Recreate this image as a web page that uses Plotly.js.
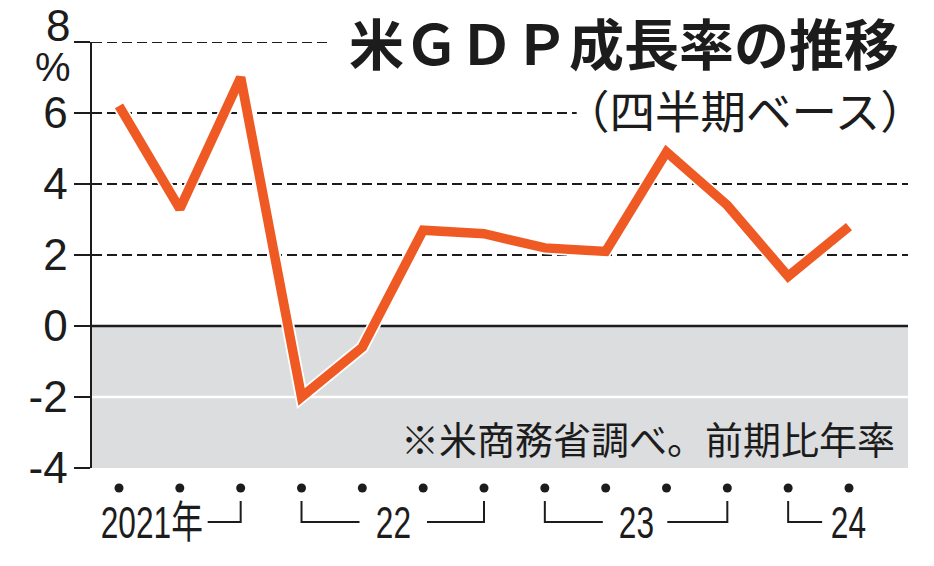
<!DOCTYPE html>
<html>
<head>
<meta charset="utf-8">
<script src="https://cdn.plot.ly/plotly-3.0.1.min.js"></script>
<style>
  html, body { margin: 0; padding: 0; background: #ffffff; }
  #chart { width: 934px; height: 566px; }
</style>
</head>
<body>
<div id="chart"></div>
<script>
// ---- data ----
const quarters = ["2021Q2","2021Q3","2021Q4","2022Q1","2022Q2","2022Q3","2022Q4",
                  "2023Q1","2023Q2","2023Q3","2023Q4","2024Q1","2024Q2"];
const growth = [6.2, 3.3, 7.0, -2.0, -0.6, 2.7, 2.6, 2.2, 2.1, 4.9, 3.4, 1.4, 2.8];
const yearLabels = ["2021年", "22", "23", "24"];
const yearFirstQ = ["2021Q2", "2022Q1", "2023Q1", "2024Q1"];
const yearLastQ  = ["2021Q4", "2022Q4", "2023Q4", "2024Q2"];
const yTickVals = [-4, -2, 0, 2, 4, 6, 8];
const yTickText = ["-4", "-2", "0", "2", "4", "6", ""];
const dashedGrid = [2, 4, 6, 8];
const titleText = "米ＧＤＰ成長率の推移";
const subtitleText = "（四半期ベース）";
const noteText = "※米商務省調べ。前期比年率";
const unitText = "%";

// ---- layout constants ----
const ORANGE = "#ef5a24";
const INK = "#1c1c1c";
const idx = q => quarters.indexOf(q);
const DOT_Y = 62, HOOK_TOP = 49, HOOK_BOT = 28, LABEL_Y = 27;
const NARROW = 0.72; // horizontal compression of year labels (condensed face)

const traces = [
  { x: quarters, y: growth, type: "scatter", mode: "lines",
    line: { color: "#ffffff", width: 13 }, hoverinfo: "skip", showlegend: false },
  { x: quarters, y: growth, type: "scatter", mode: "lines",
    line: { color: ORANGE, width: 9.5 }, showlegend: false },
  { x: quarters, y: quarters.map(() => DOT_Y), yaxis: "y2", type: "scatter", mode: "markers",
    marker: { color: INK, size: 9 }, hoverinfo: "skip", showlegend: false }
];

const shapes = [
  { type: "rect", xref: "paper", x0: 0, x1: 1, yref: "y", y0: -4, y1: 0,
    fillcolor: "#dcdddf", line: { width: 0 }, layer: "below" },
  { type: "line", xref: "paper", x0: 0, x1: 1, yref: "y", y0: -2, y1: -2,
    line: { color: "#ffffff", width: 2.5 }, layer: "below" },
  { type: "line", xref: "paper", x0: 0, x1: 1, yref: "y", y0: 0, y1: 0,
    line: { color: INK, width: 2.5 }, layer: "below" }
];
dashedGrid.forEach(v => shapes.push({
  type: "line", xref: "paper", x0: 0, x1: 1, yref: "y", y0: v, y1: v,
  line: { color: INK, width: 1.8, dash: "10px,5px" }, layer: "below"
}));
// white knock-outs behind the title and subtitle (grid lines stop before the text)
shapes.push({ type: "rect", xref: "paper", x0: 0.288, x1: 1.01, yref: "y", y0: 7.8, y1: 8.2,
  fillcolor: "#ffffff", line: { width: 0 }, layer: "below" });
shapes.push({ type: "rect", xref: "paper", x0: 0.594, x1: 1.01, yref: "y", y0: 5.8, y1: 6.2,
  fillcolor: "#ffffff", line: { width: 0 }, layer: "below" });

// year brackets
const bracketStyle = { color: INK, width: 2 };
function hookPath(anchorIdx, px) {
  return { type: "path", xref: "x", xsizemode: "pixel", xanchor: anchorIdx, yref: "y2",
           path: px, line: bracketStyle };
}
shapes.push(hookPath(idx(yearLastQ[0]), `M -33,${HOOK_BOT} L 0,${HOOK_BOT} L 0,${HOOK_TOP}`));
shapes.push(hookPath(idx(yearFirstQ[1]), `M 0,${HOOK_TOP} L 0,${HOOK_BOT} L 58,${HOOK_BOT}`));
shapes.push(hookPath(idx(yearLastQ[1]), `M -57,${HOOK_BOT} L 0,${HOOK_BOT} L 0,${HOOK_TOP}`));
shapes.push(hookPath(idx(yearFirstQ[2]), `M 0,${HOOK_TOP} L 0,${HOOK_BOT} L 58,${HOOK_BOT}`));
shapes.push(hookPath(idx(yearLastQ[2]), `M -60,${HOOK_BOT} L 0,${HOOK_BOT} L 0,${HOOK_TOP}`));
shapes.push(hookPath(idx(yearFirstQ[3]), `M 0,${HOOK_TOP} L 0,${HOOK_BOT} L 34,${HOOK_BOT}`));

const yearFont = { family: "'Liberation Sans', Arial, 'Noto Sans CJK JP', sans-serif", size: 44, color: INK };
const numFont = { family: "'Liberation Sans', Arial, sans-serif", size: 44, color: INK };
const annotations = [
  { text: yearLabels[0], xref: "x", x: idx(yearLastQ[0]), xanchor: "right", xshift: -36,
    yref: "y2", y: LABEL_Y, yanchor: "middle", showarrow: false, font: yearFont },
  { text: yearLabels[1], xref: "x", x: (idx(yearFirstQ[1]) + idx(yearLastQ[1])) / 2, xanchor: "center", xshift: 1,
    yref: "y2", y: LABEL_Y, yanchor: "middle", showarrow: false, font: yearFont },
  { text: yearLabels[2], xref: "x", x: (idx(yearFirstQ[2]) + idx(yearLastQ[2])) / 2, xanchor: "center", xshift: 0,
    yref: "y2", y: LABEL_Y, yanchor: "middle", showarrow: false, font: yearFont },
  { text: yearLabels[3], xref: "x", x: idx(yearLastQ[3]), xanchor: "center", xshift: 0,
    yref: "y2", y: LABEL_Y, yanchor: "middle", showarrow: false, font: yearFont },
  { text: "8", xref: "paper", x: 0, xanchor: "right", xshift: -20, yref: "y", y: 8, yanchor: "middle", yshift: 17,
    showarrow: false, font: numFont },
  { text: unitText, xref: "paper", x: 0, xanchor: "right", xshift: -19, yref: "y", y: 8, yanchor: "middle", yshift: -25,
    showarrow: false, font: { family: "'Liberation Sans', Arial, sans-serif", size: 40, color: INK } },
  { text: "<b>" + titleText + "</b>", xref: "paper", x: 1, xanchor: "right", xshift: -7,
    yref: "y", y: 8, yanchor: "middle", yshift: 1, showarrow: false,
    font: { family: "'Noto Sans CJK JP', sans-serif", size: 55, color: INK } },
  { text: subtitleText, xref: "paper", x: 1, xanchor: "right", xshift: 20,
    yref: "y", y: 6, yanchor: "middle", yshift: 4, showarrow: false,
    font: { family: "'Noto Sans CJK JP', sans-serif", size: 45.5, color: INK } },
  { text: noteText, xref: "paper", x: 1, xanchor: "right", xshift: -11,
    yref: "y", y: -3.15, yanchor: "middle", showarrow: false,
    font: { family: "'Noto Sans CJK JP', sans-serif", size: 38, color: INK } }
];

const layout = {
  width: 934, height: 566,
  margin: { l: 92, r: 26, t: 42, b: 16, pad: 0 },
  paper_bgcolor: "#ffffff", plot_bgcolor: "rgba(0,0,0,0)",
  showlegend: false,
  xaxis: { type: "category", range: [-0.444, 12.97], showgrid: false, zeroline: false,
           showline: false, ticks: "", showticklabels: false, fixedrange: true },
  yaxis: { domain: [0.1614, 1], range: [-4, 8], tickvals: yTickVals, ticktext: yTickText,
           showgrid: false, zeroline: false, showline: true, linecolor: INK, linewidth: 2.5,
           ticks: "outside", ticklen: 16, tickwidth: 2, tickcolor: INK, ticklabelstandoff: -3,
           tickfont: numFont, fixedrange: true },
  yaxis2: { domain: [0, 0.1614], range: [0, 82], anchor: "x", visible: false, fixedrange: true },
  shapes: shapes,
  annotations: annotations
};

Plotly.newPlot("chart", traces, layout, { displayModeBar: false, staticPlot: true }).then(gd => {
  // condensed look for the year labels: compress horizontally around their anchor edge
  for (let i = 0; i < yearLabels.length; i++) {
    const t = gd.querySelector(`.annotation[data-index="${i}"] text`);
    if (!t) continue;
    const bb = t.getBBox();
    const ox = (i === 0) ? bb.x + bb.width : bb.x + bb.width / 2;
    t.setAttribute("transform", `translate(${ox},0) scale(${NARROW},1) translate(${-ox},0)`);
  }
});
</script>
</body>
</html>
